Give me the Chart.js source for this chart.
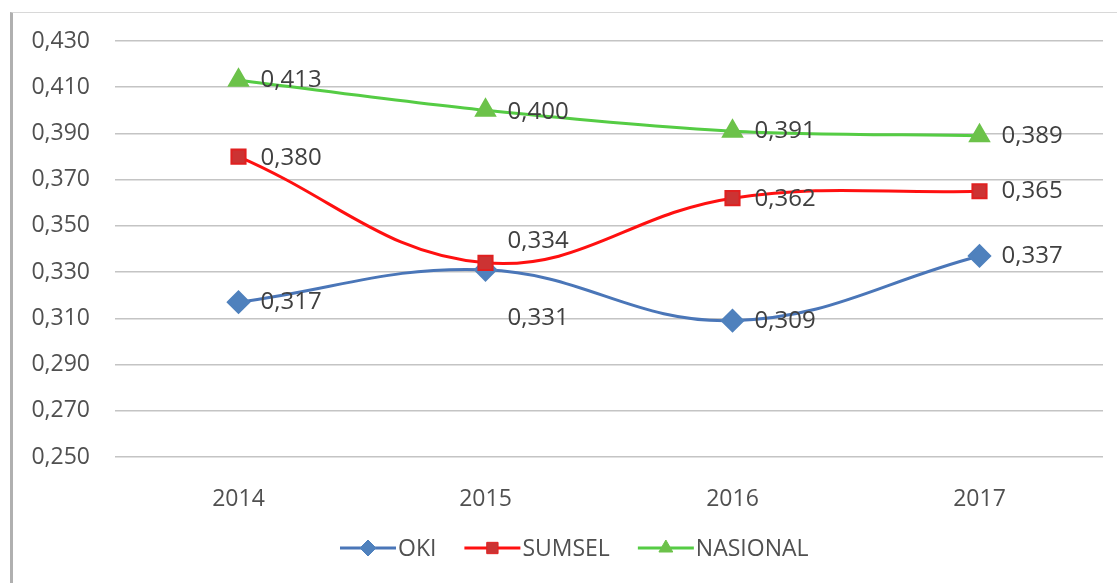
<!DOCTYPE html>
<html>
<head>
<meta charset="utf-8">
<script src="https://cdn.jsdelivr.net/npm/chart.js@4"></script>
<style>
  html, body { margin: 0; padding: 0; background: #fff; }
  #wrap { position: relative; width: 1117px; height: 583px; }
  #frame { position: absolute; left: 10px; top: 12px; right: 0; bottom: 0;
           border-left: 3px solid #b0b0b0; border-top: 1px solid #d8d8d8; }
  canvas { position: absolute; left: 0; top: 0; }
</style>
</head>
<body>
<div id="wrap">
  <div id="frame"></div>
  <canvas id="c" width="1117" height="583"></canvas>
</div>
<script>
// data
const years = ['2014', '2015', '2016', '2017'];
const oki = [0.317, 0.331, 0.309, 0.337];
const sumsel = [0.380, 0.334, 0.362, 0.365];
const nasional = [0.413, 0.400, 0.391, 0.389];
const yTicks = [0.25, 0.27, 0.29, 0.31, 0.33, 0.35, 0.37, 0.39, 0.41, 0.43];

const FONT = '"Open Sans", "DejaVu Sans", sans-serif';
const TXT = '#505050';

const fmt = v => v.toFixed(3).replace('.', ',');

// label offsets per series / point: [dx, dy]
const labelShift = {
  0: [[22, 0], [22, 48], [22, 1], [22, 0]],
  1: [[22, 2], [22, -22], [22, 1], [22, 0]],
  2: [[22, 0], [22, 2], [22, 0], [22, 0]],
};

const valueLabels = {
  id: 'valueLabels',
  afterDatasetsDraw(chart) {
    const ctx = chart.ctx;
    ctx.save();
    ctx.font = '24px ' + FONT;
    ctx.fillStyle = '#404040';
    ctx.textBaseline = 'middle';
    ctx.textAlign = 'left';
    chart.data.datasets.forEach((ds, i) => {
      chart.getDatasetMeta(i).data.forEach((pt, j) => {
        const [dx, dy] = labelShift[i][j];
        ctx.fillText(fmt(ds.data[j]), pt.x + dx, pt.y + dy);
      });
    });
    ctx.restore();
  },
};

const legendRow = {
  id: 'legendRow',
  afterDraw(chart) {
    const ctx = chart.ctx;
    const y = 548;
    let x = 340;
    ctx.save();
    ctx.font = '23px ' + FONT;
    ctx.textBaseline = 'middle';
    chart.data.datasets.forEach(ds => {
      ctx.strokeStyle = ds.borderColor;
      ctx.lineWidth = 3;
      ctx.beginPath();
      ctx.moveTo(x, y);
      ctx.lineTo(x + 56, y);
      ctx.stroke();
      ctx.fillStyle = ds.pointBackgroundColor;
      ctx.strokeStyle = ds.pointBorderColor;
      ctx.lineWidth = 1;
      Chart.helpers.drawPoint(ctx, {
        pointStyle: ds.pointStyle,
        radius: 8,
        borderWidth: 1,
      }, x + 28, y);
      ctx.fillStyle = TXT;
      ctx.fillText(ds.label, x + 58, y + 1);
      x += 58 + ctx.measureText(ds.label).width + 28;
    });
    ctx.restore();
  },
};

new Chart(document.getElementById('c'), {
  type: 'line',
  data: {
    labels: years,
    datasets: [
      {
        label: 'OKI', data: oki, order: 3,
        borderColor: '#4A76B8', borderWidth: 3,
        pointStyle: 'rectRot', pointRadius: 10,
        pointBackgroundColor: '#4F81BD', pointBorderColor: '#4F81BD',
        tension: 0.4,
      },
      {
        label: 'SUMSEL', data: sumsel, order: 2,
        borderColor: '#FF1010', borderWidth: 3,
        pointStyle: 'rect', pointRadius: 10,
        pointBackgroundColor: '#CC3333', pointBorderColor: '#E02020', pointBorderWidth: 2,
        tension: 0.4,
      },
      {
        label: 'NASIONAL', data: nasional, order: 1,
        borderColor: '#55CC44', borderWidth: 3,
        pointStyle: 'triangle', pointRadius: 10,
        pointBackgroundColor: '#6CC24A', pointBorderColor: '#6CC24A',
        tension: 0.3,
      },
    ],
  },
  options: {
    responsive: false,
    animation: false,
    layout: { padding: { top: 41, right: 14, bottom: 0, left: 0 } },
    plugins: {
      legend: { display: false },
      tooltip: { enabled: false },
    },
    scales: {
      x: {
        offset: true,
        grid: { display: false },
        border: { display: false },
        ticks: { color: TXT, font: { family: FONT, size: 23 }, padding: 21 },
        afterFit: s => { s.height = 126; },
      },
      y: {
        min: 0.25, max: 0.43,
        afterBuildTicks: s => { s.ticks = yTicks.map(v => ({ value: v })); },
        grid: { color: '#c4c4c4', lineWidth: 1.5, drawTicks: false },
        border: { display: false },
        ticks: {
          color: TXT, font: { family: FONT, size: 23 }, padding: 25,
          callback: v => fmt(v),
        },
        afterFit: s => { s.width = 115; },
      },
    },
  },
  plugins: [valueLabels, legendRow],
});
</script>
</body>
</html>
